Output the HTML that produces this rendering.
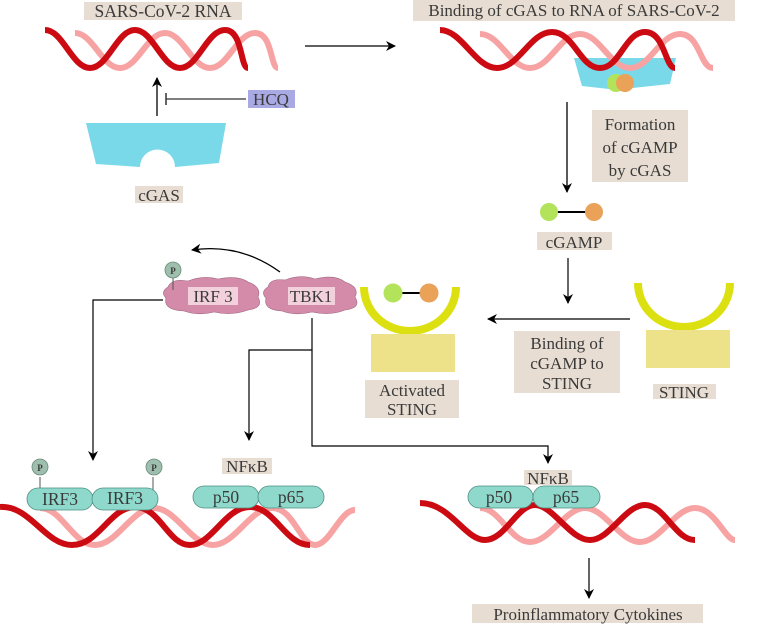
<!DOCTYPE html>
<html><head><meta charset="utf-8"><style>
html,body{margin:0;padding:0;background:#fff;}
svg{display:block;}
text{font-family:"Liberation Serif",serif;fill:#3a3a3a;}
</style></head><body>
<svg width="762" height="625" viewBox="0 0 762 625" xmlns="http://www.w3.org/2000/svg">
<defs>
<marker id="ah" markerWidth="10" markerHeight="10" refX="9" refY="5" orient="auto" markerUnits="userSpaceOnUse">
<path d="M0,0 L10,5 L0,10 L3,5 Z" fill="#000"/></marker>
</defs>
<g fill="none" stroke-linecap="butt">
<path d="M75,33 C93,33 102,68 120,68 S147,33 165,33 S192,68 210,68 S237,33 255,33 S270,68 278,68" stroke="#f7a3a3" stroke-width="6"/>
<path d="M45,30 C63,30 72,68 90,68 S117,30 135,30 S162,68 180,68 S207,30 225,30 S240,68 248,68" stroke="#cc0a12" stroke-width="6"/>
</g>
<path d="M574,58 L676,58 L670,84 L633,88 L618,90 L582,86 Z" fill="#79d9e8"/>
<g fill="none">
<path d="M480,34 C500,34 510,68 530,68 S560,34 580,34 S610,68 630,68 S660,34 680,34 S700,68 713,68" stroke="#f7a3a3" stroke-width="6"/>
<path d="M440,30 C462,30 475,68 497,68 S530,32 552,32 S580,68 600,68 S625,32 645,32 S665,68 675,68" stroke="#cc0a12" stroke-width="6"/>
</g>
<circle cx="616" cy="83" r="9" fill="#b3e35a"/>
<circle cx="625" cy="83" r="9" fill="#e9a257"/>
<g fill="none">
<path d="M40,508 C62,508 73,545 95,545 S132,508 154,508 S191,545 213,545 S250,508 272,508 S300,545 315,545 S340,510 355,510" stroke="#f7a3a3" stroke-width="6"/>
<path d="M0,507 C30,505 45,545 72,545 S110,507 135,507 S168,545 190,545 S225,507 250,507 S285,545 310,545" stroke="#cc0a12" stroke-width="6"/>
<path d="M480,508 C500,508 510,542 530,542 S565,508 585,508 S620,542 640,542 S675,508 695,508 S725,540 735,540" stroke="#f7a3a3" stroke-width="6"/>
<path d="M420,503 C450,503 465,540 485,540 S517,505 535,505 S570,540 590,540 S625,505 645,505 S675,540 695,540" stroke="#cc0a12" stroke-width="6"/>
</g>
<rect x="84" y="2" width="158" height="18" fill="#e8ddd2"/>
<text x="163" y="17" font-size="17.5" text-anchor="middle">SARS-CoV-2 RNA</text>
<rect x="413" y="0" width="322" height="21" fill="#e8ddd2"/>
<text x="574" y="16" font-size="17" text-anchor="middle">Binding of cGAS to RNA of SARS-CoV-2</text>
<line x1="305" y1="46" x2="395" y2="46" stroke="#000" stroke-width="1.3" marker-end="url(#ah)"/>
<path d="M86,123 L226,123 L219,163 L175,167 A17,17 0 0 0 140,167 L96,164 Z" fill="#79d9e8"/>
<rect x="135" y="186" width="48" height="17" fill="#e8ddd2"/>
<text x="159" y="201" font-size="17" text-anchor="middle">cGAS</text>
<line x1="157" y1="116" x2="157" y2="78" stroke="#000" stroke-width="1.3" marker-end="url(#ah)"/>
<line x1="166" y1="99" x2="246" y2="99" stroke="#333" stroke-width="1.3"/>
<line x1="166" y1="93" x2="166" y2="105" stroke="#333" stroke-width="1.5"/>
<rect x="248" y="90" width="47" height="18" fill="#a9a9e3"/>
<text x="271" y="105" font-size="17" text-anchor="middle">HCQ</text>
<line x1="567" y1="102" x2="567" y2="192" stroke="#000" stroke-width="1.3" marker-end="url(#ah)"/>
<rect x="592" y="110" width="96" height="72" fill="#e8ddd2"/>
<text x="640" y="130" font-size="17" text-anchor="middle">Formation</text>
<text x="640" y="153" font-size="17" text-anchor="middle">of cGAMP</text>
<text x="640" y="176" font-size="17" text-anchor="middle">by cGAS</text>
<line x1="550" y1="212" x2="593" y2="212" stroke="#000" stroke-width="2"/>
<circle cx="549" cy="212" r="9" fill="#b3e35a"/>
<circle cx="594" cy="212" r="9" fill="#e9a257"/>
<rect x="537" y="232" width="75" height="18" fill="#e8ddd2"/>
<text x="574" y="248" font-size="17" text-anchor="middle">cGAMP</text>
<line x1="568" y1="258" x2="568" y2="303" stroke="#000" stroke-width="1.2" marker-end="url(#ah)"/>
<line x1="630" y1="319" x2="488" y2="319" stroke="#000" stroke-width="1.3" marker-end="url(#ah)"/>
<rect x="514" y="331" width="106" height="62" fill="#e8ddd2"/>
<text x="567" y="349" font-size="17" text-anchor="middle">Binding of</text>
<text x="567" y="369" font-size="17" text-anchor="middle">cGAMP to</text>
<text x="567" y="389" font-size="17" text-anchor="middle">STING</text>
<path d="M638,283 A46,44 0 0 0 730,283" fill="none" stroke="#dde010" stroke-width="8"/>
<rect x="646" y="330" width="84" height="38" fill="#ede28a"/>
<rect x="653" y="384" width="63" height="15" fill="#e8ddd2"/>
<text x="684" y="398" font-size="17" text-anchor="middle">STING</text>
<path d="M364,287 A46,44 0 0 0 456,287" fill="none" stroke="#dde010" stroke-width="8"/>
<line x1="393" y1="293" x2="429" y2="293" stroke="#000" stroke-width="2"/>
<circle cx="393" cy="293" r="9.5" fill="#b3e35a"/>
<circle cx="429" cy="293" r="9.5" fill="#e9a257"/>
<rect x="371" y="334" width="84" height="38" fill="#ede28a"/>
<rect x="365" y="380" width="94" height="38" fill="#e8ddd2"/>
<text x="412" y="396" font-size="17" text-anchor="middle">Activated</text>
<text x="412" y="415" font-size="17" text-anchor="middle">STING</text>
<path d="M268,287 Q270,278 285,280 Q300,274 315,279 Q335,274 345,282 Q360,287 355,297 Q362,308 345,310 Q330,316 312,312 Q295,316 282,311 Q263,310 266,298 Q260,292 268,287 Z" fill="#d48aa9" stroke="#a06880" stroke-width="0.6"/>
<rect x="288" y="287" width="47" height="18" fill="#f2d1dd"/>
<text x="311" y="302" font-size="17" text-anchor="middle">TBK1</text>
<path d="M168,287 Q172,278 188,281 Q203,275 218,279 Q238,275 248,282 Q262,287 258,297 Q264,308 248,310 Q232,316 214,312 Q198,316 184,311 Q163,310 166,298 Q160,292 168,287 Z" fill="#d48aa9" stroke="#a06880" stroke-width="0.6"/>
<rect x="188" y="287" width="50" height="18" fill="#f2d1dd"/>
<text x="213" y="302" font-size="17" text-anchor="middle">IRF 3</text>
<line x1="173" y1="278" x2="173" y2="290" stroke="#555" stroke-width="1"/>
<circle cx="173" cy="270" r="8" fill="#9fbfae" stroke="#6a8a7a" stroke-width="0.8"/>
<text x="173" y="274" font-size="9" text-anchor="middle" font-weight="bold">P</text>
<path d="M280,272 Q240,243 192,250" fill="none" stroke="#000" stroke-width="1.3" marker-end="url(#ah)"/>
<polyline points="163,300 93,300 93,460" fill="none" stroke="#000" stroke-width="1.2" marker-end="url(#ah)"/>
<polyline points="312,318 312,350 249,350 249,440" fill="none" stroke="#000" stroke-width="1.2" marker-end="url(#ah)"/>
<polyline points="312,350 312,446 548,446 548,463" fill="none" stroke="#000" stroke-width="1.2" marker-end="url(#ah)"/>
<line x1="40" y1="477" x2="40" y2="490" stroke="#555" stroke-width="1"/>
<line x1="153" y1="477" x2="153" y2="490" stroke="#555" stroke-width="1"/>
<circle cx="40" cy="467" r="8" fill="#9fbfae" stroke="#6a8a7a" stroke-width="0.8"/>
<text x="40" y="471" font-size="9" text-anchor="middle" font-weight="bold">P</text>
<circle cx="154" cy="467" r="8" fill="#9fbfae" stroke="#6a8a7a" stroke-width="0.8"/>
<text x="154" y="471" font-size="9" text-anchor="middle" font-weight="bold">P</text>
<g fill="#8fd9cc" stroke="#4e8f84" stroke-width="0.8">
<rect x="27" y="488" width="66" height="22" rx="11"/>
<rect x="92" y="488" width="66" height="22" rx="11"/>
<rect x="193" y="486" width="66" height="22" rx="11"/>
<rect x="258" y="486" width="66" height="22" rx="11"/>
<rect x="468" y="486" width="65" height="22" rx="11"/>
<rect x="533" y="486" width="67" height="22" rx="11"/>
</g>
<g font-size="17.5" text-anchor="middle">
<text x="60" y="505" fill="#111">IRF3</text>
<text x="125" y="504" fill="#111">IRF3</text>
<text x="226" y="503" fill="#111">p50</text>
<text x="291" y="503" fill="#111">p65</text>
<text x="499" y="503" fill="#111">p50</text>
<text x="566" y="503" fill="#111">p65</text>
</g>
<rect x="222" y="458" width="50" height="16" fill="#e8ddd2"/>
<text x="247" y="472" font-size="17" text-anchor="middle">NFκB</text>
<rect x="524" y="470" width="48" height="15" fill="#e8ddd2"/>
<text x="548" y="484" font-size="17" text-anchor="middle">NFκB</text>
<line x1="589" y1="558" x2="589" y2="598" stroke="#000" stroke-width="1.2" marker-end="url(#ah)"/>
<rect x="472" y="604" width="231" height="19" fill="#e8ddd2"/>
<text x="588" y="620" font-size="17" text-anchor="middle">Proinflammatory Cytokines</text>
</svg>
</body></html>
